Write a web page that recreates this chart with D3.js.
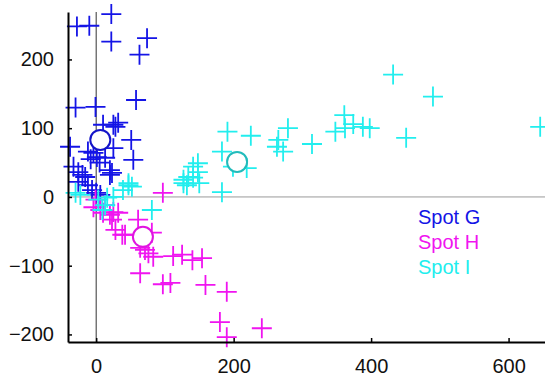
<!DOCTYPE html>
<html>
<head>
<meta charset="utf-8">
<script src="https://cdn.jsdelivr.net/npm/d3@7"></script>
<style>
  html, body { margin: 0; padding: 0; background: #fff; }
  svg { display: block; }
</style>
</head>
<body>
<div id="chart"></div>
<script>
// Spot G (blue)
const spotGX = [-28, -10, 22, 22, 74, 63, 58, -30, -1, 10, 25, 32, 51, 54, -38, -12, -4, 1, 13, 20, -33, -26, -20, -16, 20, 23, 25, 28, -12, -6, 0, 6, -26, 5, -8];
const spotGY = [248, 249, 266, 226, 231, 207, 141, 130, 131, 105, 105, 108, 83, 54, 73, 66, 64, 58, 57, 39, 44, 36, 32, 29, 32, 35, 71, 102, 17, 10, 6, 3, 22, 50, 55];
// Spot H (magenta)
const spotHX = [97, -4, 6, 10, 20, 25, 32, 28, 38, 61, 81, 64, 76, 83, 71, 112, 125, 140, 154, 64, 97, 108, 159, 190, 180, 190, 241, -1, 13, 23, 42];
const spotHY = [6, -15, -19, -23, -26, -22, -23, -48, -55, -33, -52, -74, -82, -87, -77, -86, -84, -92, -89, -111, -127, -125, -128, -138, -182, -204, -191, -4, -12, -33, -55];
// Spot I (cyan)
const spotIX = [432, 490, 388, 398, 451, 646, 361, 348, 362, 374, 279, 263, 272, 314, 191, 225, 183, 219, 199, 183, 141, 148, 127, 134, 141, 150, 265, 148, 127, -30, -23, 47, 52, 39, 3, 13, 16, 25, 81, 132, 9, 47];
const spotIY = [178, 146, 102, 100, 86, 102, 119, 95, 100, 106, 100, 73, 66, 77, 95, 89, 66, 42, 44, 7, 44, 36, 20, 29, 28, 20, 83, 49, 25, 6, 3, 17, 15, 10, -4, -12, -1, 0, -19, 17, -19, 20];
// centroids
const centerX = [6, 68, 205];
const centerY = [83, -58, 51];

const seriesNames = ['Spot G', 'Spot H', 'Spot I'];
const seriesColors = ['#1414e6', '#f014f0', '#22eeee'];
const circleColors = ['#1414c8', '#e014e0', '#22bbbb'];
const xTicks = [0, 200, 400, 600];
const yTicks = [-200, -100, 0, 100, 200];

const width = 545, height = 377;
const x = d3.scaleLinear().domain([-41, 653]).range([68, 545]);
const y = d3.scaleLinear().domain([-211, 269]).range([342, 12]);

const svg = d3.select('#chart').append('svg')
  .attr('width', width)
  .attr('height', height);

// zero lines
svg.append('line')
  .attr('x1', x(-41)).attr('x2', x(653))
  .attr('y1', y(0)).attr('y2', y(0))
  .attr('stroke', '#999').attr('stroke-width', 1);
svg.append('line')
  .attr('x1', x(0)).attr('x2', x(0))
  .attr('y1', y(269)).attr('y2', y(-211))
  .attr('stroke', '#333').attr('stroke-width', 1);

// points
const series = [
  d3.zip(spotGX, spotGY),
  d3.zip(spotHX, spotHY),
  d3.zip(spotIX, spotIY),
];
const arm = 10;
series.forEach((pts, i) => {
  svg.append('g')
    .attr('stroke', seriesColors[i])
    .attr('stroke-width', 1.8)
    .attr('fill', 'none')
    .selectAll('path')
    .data(pts)
    .join('path')
    .attr('d', d => {
      const px = x(d[0]), py = y(d[1]);
      return `M${px - arm},${py}H${px + arm}M${px},${py - arm}V${py + arm}`;
    });
});

// centroid circles
svg.append('g')
  .selectAll('circle')
  .data(d3.range(centerX.length))
  .join('circle')
  .attr('cx', i => x(centerX[i]))
  .attr('cy', i => y(centerY[i]))
  .attr('r', 10)
  .attr('fill', '#fff')
  .attr('stroke', i => circleColors[i])
  .attr('stroke-width', 2);

// axes
const yAxis = svg.append('g')
  .attr('transform', `translate(${x(-41)},0)`)
  .call(d3.axisLeft(y).tickValues(yTicks).tickSizeInner(-4).tickSizeOuter(0).tickPadding(14));
const xAxis = svg.append('g')
  .attr('transform', `translate(0,${y(-211)})`)
  .call(d3.axisBottom(x).tickValues(xTicks).tickSizeInner(-4).tickSizeOuter(0).tickPadding(17));
[yAxis, xAxis].forEach(g => {
  g.select('.domain').attr('stroke', '#000').attr('stroke-width', 2);
  g.selectAll('.tick line').attr('stroke', '#000').attr('stroke-width', 1.5);
  g.selectAll('text')
    .attr('fill', '#111')
    .attr('font-family', 'Liberation Sans, Arial, sans-serif')
    .attr('font-size', 20);
});

// legend
svg.append('g')
  .attr('font-family', 'Liberation Sans, Arial, sans-serif')
  .attr('font-size', 20)
  .selectAll('text')
  .data(seriesNames)
  .join('text')
  .attr('x', 418)
  .attr('y', (d, i) => 224 + i * 25)
  .attr('fill', (d, i) => seriesColors[i])
  .text(d => d);
</script>
</body>
</html>
